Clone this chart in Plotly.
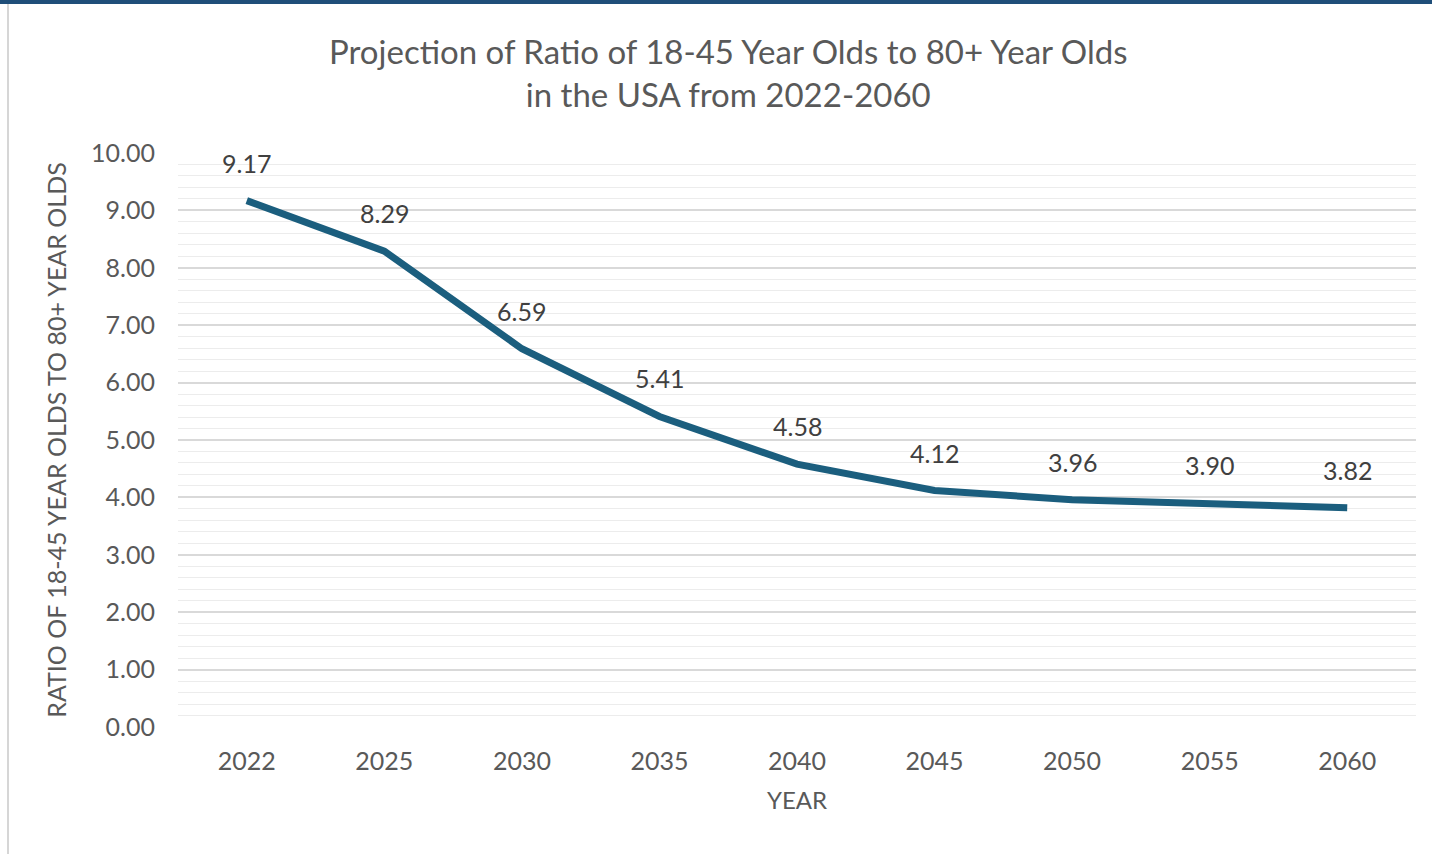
import plotly.graph_objects as go

years = ["2022", "2025", "2030", "2035", "2040", "2045", "2050", "2055", "2060"]
ratios = [9.17, 8.29, 6.59, 5.41, 4.58, 4.12, 3.96, 3.90, 3.82]

FONT = "Lato, 'Open Sans', sans-serif"
TEXT = "#595959"
LINE = "#1B5E7E"

fig = go.Figure()
fig.add_trace(go.Scatter(
    x=list(range(len(years))), y=ratios, mode="lines",
    line=dict(color=LINE, width=7, shape="linear"),
    hovertext=years, hoverinfo="text+y", showlegend=False,
))

# value labels above each point
for i, v in enumerate(ratios):
    fig.add_annotation(x=i, y=v, xref="x", yref="y", text=f"{v:.2f}", showarrow=False,
                       yshift=38, font=dict(family=FONT, size=25, color="#404040"))

# two-line chart title
fig.add_annotation(
    text="Projection of Ratio of 18-45 Year Olds to 80+ Year Olds<br>in the USA from 2022-2060",
    xref="paper", yref="paper", x=(728 - 178) / 1238, y=1 + (153 - 72.5) / 574,
    xanchor="center", yanchor="middle", showarrow=False,
    font=dict(family=FONT, size=33, color=TEXT),
)

fig.update_layout(
    width=1432, height=854,
    margin=dict(l=178, r=16, t=153, b=127),
    paper_bgcolor="white", plot_bgcolor="white",
    font=dict(family=FONT, color=TEXT),
    xaxis=dict(
        range=[-0.5, 8.5], tickmode="array",
        tickvals=list(range(len(years))), ticktext=years,
        showgrid=False, showline=False, zeroline=False, ticks="",
        tickfont=dict(family=FONT, size=25, color=TEXT),
        ticklabelstandoff=17,
        title=dict(text="YEAR", font=dict(family=FONT, size=24, color=TEXT), standoff=18),
    ),
    yaxis=dict(
        range=[0, 10], dtick=1, tickformat=".2f",
        showgrid=True, gridcolor="#d9d9d9", gridwidth=1.5,
        zeroline=False, showline=False, ticks="",
        minor=dict(dtick=0.2, showgrid=True, gridcolor="#ececec", gridwidth=1),
        tickfont=dict(family=FONT, size=25, color=TEXT),
        ticklabelstandoff=22,
        title=dict(text="RATIO OF 18-45 YEAR OLDS TO 80+ YEAR OLDS",
                   font=dict(family=FONT, size=25, color=TEXT), standoff=17),
    ),
    shapes=[
        dict(type="rect", xref="paper", yref="paper", x0=-0.2, x1=1.1,
             y0=1 + 149 / 574, y1=1 + 160 / 574, fillcolor="#1F4E79", line=dict(width=0),
             layer="above"),
        dict(type="line", xref="paper", yref="paper",
             x0=-170 / 1238, x1=-170 / 1238, y0=-127 / 574, y1=1 + 149 / 574,
             line=dict(color="#c8c8c8", width=1.5)),
    ],
)

fig.write_html("out.html")
